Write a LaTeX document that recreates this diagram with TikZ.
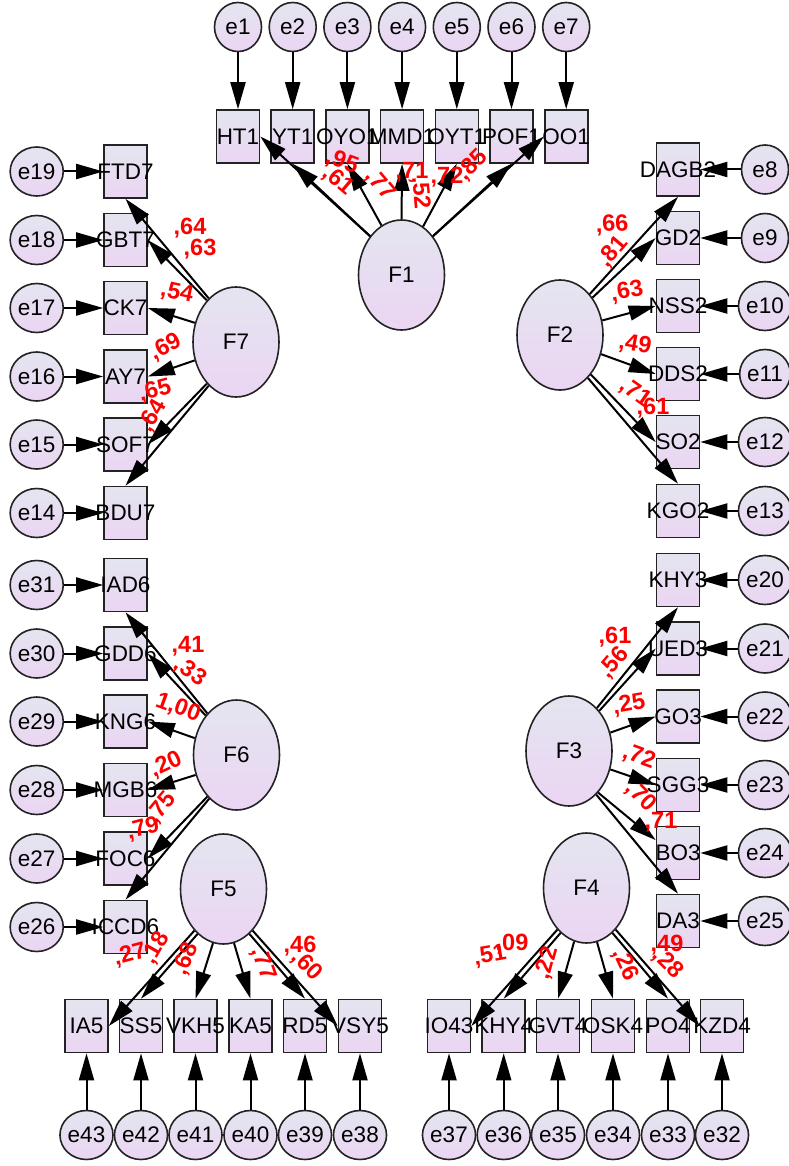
\documentclass[tikz,border=0pt]{standalone}
\usepackage{fontspec}
\setmainfont{Liberation Sans}
\usetikzlibrary{arrows.meta,shapes.geometric}
\definecolor{lavtop}{RGB}{228,229,240}
\definecolor{lavbot}{RGB}{235,213,243}
\definecolor{edgec}{RGB}{35,35,35}
\newcommand{\bx}[1]{\hbox to 0pt{\hss#1\hss}}
\begin{document}
\begin{tikzpicture}[x=1pt,y=-1pt,
  every node/.style={font=\fontsize{22.5}{22.5}\selectfont, inner sep=0pt},
  errc/.style={ellipse, draw=edgec, line width=1.6pt, top color=lavtop, bottom color=lavbot, minimum width=47pt, minimum height=49pt},
  obs/.style={rectangle, draw=edgec, line width=1.6pt, top color=lavtop, bottom color=lavbot, minimum width=43pt, minimum height=53pt},
  lat/.style={ellipse, draw=edgec, line width=1.6pt, top color=lavtop, bottom color=lavbot, minimum width=86pt, minimum height=110pt},
  arr/.style={-{Triangle[length=27pt,width=15pt]}, line width=2pt, black},
  ld/.style={text=red, font=\fontsize{23.5}{23.5}\selectfont\bfseries}
]
\fill[white] (0,0) rectangle (788,1166);
\useasboundingbox (0,0) rectangle (788,1166);

% latent factors
\node[lat] (F1) at (401.5,275) {F1};
\node[lat] (F7) at (236,342) {F7};
\node[lat] (F2) at (560,335) {F2};
\node[lat] (F6) at (236.5,755) {F6};
\node[lat] (F3) at (569,751) {F3};
\node[lat] (F5) at (223.5,889) {F5};
\node[lat] (F4) at (586.5,888) {F4};

% top row
\foreach \n/\e/\x in {HT1/e1/238, YT1/e2/292.7, OYO1/e3/347.4, MMD1/e4/402.1, OYT1/e5/456.8, POF1/e6/511.5, OO1/e7/566.2} {
  \node[obs] (\n) at (\x,136.5) {\bx{\n}};
  \node[errc] (\e) at (\x,27) {\e};
}
% left column F7
\foreach \n/\e/\y in {FTD7/e19/171.5, GBT7/e18/240, CK7/e17/308, AY7/e16/376.5, SOF7/e15/444.5, BDU7/e14/513} {
  \node[obs] (\n) at (125.5,\y) {\bx{\n}};
  \node[errc] (\e) at (36.7,\y) {\e};
}
% left column F6
\foreach \n/\e/\y in {IAD6/e31/585, GDD6/e30/653.5, KNG6/e29/721.5, MGB6/e28/790, FOC6/e27/858.5, ICCD6/e26/927} {
  \node[obs] (\n) at (125.5,\y) {\bx{\n}};
  \node[errc] (\e) at (36.7,\y) {\e};
}
% right column F2
\foreach \n/\e/\y in {DAGB2/e8/169.5, GD2/e9/238, NSS2/e10/306, DDS2/e11/374, SO2/e12/442, KGO2/e13/511} {
  \node[obs] (\n) at (678,\y) {\bx{\n}};
  \node[errc] (\e) at (765,\y) {\e};
}
% right column F3
\foreach \n/\e/\y in {KHY3/e20/580, UED3/e21/648.5, GO3/e22/716.5, SGG3/e23/785, BO3/e24/853, DA3/e25/921} {
  \node[obs] (\n) at (678,\y) {\bx{\n}};
  \node[errc] (\e) at (765,\y) {\e};
}
% bottom row F5
\foreach \n/\e/\x in {IA5/e43/86.5, SS5/e42/141, VKH5/e41/195.5, KA5/e40/250.5, RD5/e39/305, VSY5/e38/360} {
  \node[obs] (\n) at (\x,1026) {\bx{\n}};
  \node[errc] (\e) at (\x,1135) {\e};
}
% bottom row F4
\foreach \n/\t/\e/\x in {IO4/IO43/e37/449, KHY4/KHY4/e36/503.7, GVT4/GVT4/e35/558, OSK4/OSK4/e34/613, PO4/PO4/e33/668, KZD4/KZD4/e32/722} {
  \node[obs] (\n) at (\x,1026) {\bx{\t}};
  \node[errc] (\e) at (\x,1135) {\e};
}

% error arrows
\foreach \n/\e in {HT1/e1, YT1/e2, OYO1/e3, MMD1/e4, OYT1/e5, POF1/e6, OO1/e7,
  FTD7/e19, GBT7/e18, CK7/e17, AY7/e16, SOF7/e15, BDU7/e14,
  IAD6/e31, GDD6/e30, KNG6/e29, MGB6/e28, FOC6/e27, ICCD6/e26,
  DAGB2/e8, GD2/e9, NSS2/e10, DDS2/e11, SO2/e12, KGO2/e13,
  KHY3/e20, UED3/e21, GO3/e22, SGG3/e23, BO3/e24, DA3/e25,
  IA5/e43, SS5/e42, VKH5/e41, KA5/e40, RD5/e39, VSY5/e38,
  IO4/e37, KHY4/e36, GVT4/e35, OSK4/e34, PO4/e33, KZD4/e32}
  \draw[arr] (\e) -- (\n);

% loadings F1
\draw[arr] (F1.129) -- (HT1.east);
\draw[arr] (F1.129) -- (YT1.south);
\draw[arr] (F1.112) -- (OYO1.south);
\draw[arr] (F1.90) -- (MMD1.south);
\draw[arr] (F1.66) -- (OYT1.south);
\draw[arr] (F1.51) -- (POF1.south);
\draw[arr] (F1.51) -- (OO1.west);
% F7
\draw[arr] (F7.122) -- (FTD7.south);
\draw[arr] (F7.125) -- (GBT7.east);
\draw[arr] (F7.155) -- (CK7.east);
\draw[arr] (F7.204) -- (AY7.east);
\draw[arr] (F7.235) -- (SOF7.east);
\draw[arr] (F7.238) -- (BDU7.north);
% F2
\draw[arr] (F2.54) -- (DAGB2.south);
\draw[arr] (F2.49) -- (GD2.west);
\draw[arr] (F2.19) -- (NSS2.west);
\draw[arr] (F2.335) -- (DDS2.west);
\draw[arr] (F2.308) -- (SO2.west);
\draw[arr] (F2.303) -- (KGO2.north);
% F6
\draw[arr] (F6.125) -- (IAD6.south);
\draw[arr] (F6.128) -- (GDD6.east);
\draw[arr] (F6.158) -- (KNG6.east);
\draw[arr] (F6.206) -- (MGB6.east);
\draw[arr] (F6.235) -- (FOC6.east);
\draw[arr] (F6.238) -- (ICCD6.north);
% F3
\draw[arr] (F3.57) -- (KHY3.south);
\draw[arr] (F3.53) -- (UED3.west);
\draw[arr] (F3.24) -- (GO3.west);
\draw[arr] (F3.336) -- (SGG3.west);
\draw[arr] (F3.305) -- (BO3.150);
\draw[arr] (F3.302) -- (DA3.north);
% F5
\draw[arr] (F5.235) -- (IA5.east);
\draw[arr] (F5.240) -- (SS5.north);
\draw[arr] (F5.259) -- (VKH5.north);
\draw[arr] (F5.281) -- (KA5.north);
\draw[arr] (F5.300) -- (RD5.north);
\draw[arr] (F5.305) -- (VSY5.west);
% F4
\draw[arr] (F4.235) -- (IO4.east);
\draw[arr] (F4.240) -- (KHY4.north);
\draw[arr] (F4.257) -- (GVT4.north);
\draw[arr] (F4.281) -- (OSK4.north);
\draw[arr] (F4.300) -- (PO4.north);
\draw[arr] (F4.305) -- (KZD4.west);

% labels F1
\node[ld, rotate=-20] (a1) at (342,162) {,95};
\node[ld, rotate=-40] (a2) at (338,181) {,61};
\node[ld, rotate=-50] (a3) at (380,185) {,77};
\node[ld] (a4) at (412,172) {,71};
\node[ld, rotate=-85] (a5) at (420,193) {,52};
\node[ld] (a6) at (447,177) {,72};
\node[ld, rotate=45] (a7) at (473,165) {,85};
% labels F7
\node[ld] (b1) at (190,228) {,64};
\node[ld] (b2) at (200,249) {,63};
\node[ld, rotate=-12] (b3) at (177,293) {,54};
\node[ld, rotate=28] (b4) at (166,347) {,69};
\node[ld, rotate=15] (b5) at (155,391) {,65};
\node[ld, rotate=60] (b6) at (153,416) {,64};
% labels F2
\node[ld, rotate=3] (c1) at (612,225) {,66};
\node[ld, rotate=50] (c2) at (613,252) {,81};
\node[ld, rotate=10] (c3) at (627,292) {,63};
\node[ld, rotate=-10] (c4) at (635,345) {,49};
\node[ld, rotate=-35] (c5) at (635,393) {,71};
\node[ld] (c6) at (653,408) {,61};
% labels F6
\node[ld] (d1) at (188,646) {,41};
\node[ld, rotate=-35] (d2) at (190,672) {,33};
\node[ld, rotate=-20] (d3) at (178,708) {1,00};
\node[ld, rotate=25] (d4) at (166,765) {,20};
\node[ld, rotate=50] (d5) at (162,808) {,75};
\node[ld, rotate=15] (d6) at (143,829) {,79};
% labels F3
\node[ld] (g1) at (615,637) {,61};
\node[ld, rotate=50] (g2) at (614,663) {,56};
\node[ld, rotate=10] (g3) at (629,705) {,25};
\node[ld, rotate=-20] (g4) at (639,757) {,72};
\node[ld, rotate=-45] (g5) at (641,797) {,70};
\node[ld] (g6) at (661,822) {,71};
% labels F5
\node[ld, rotate=15] (h1) at (130,955) {,27};
\node[ld, rotate=60] (h2) at (156,948) {,18};
\node[ld, rotate=68] (h3) at (186,959) {,68};
\node[ld, rotate=-70] (h4) at (263,964) {,77};
\node[ld] (h5) at (300,946) {,46};
\node[ld, rotate=-45] (h6) at (307,966) {,60};
% labels F4
\node[ld, rotate=10] (k1) at (490,956) {,51};
\node[ld] (k2) at (512,944) {,09};
\node[ld, rotate=75] (k3) at (547,963) {,22};
\node[ld, rotate=-65] (k4) at (625,965) {,26};
\node[ld] (k5) at (667,945) {,49};
\node[ld, rotate=-45] (k6) at (668,964) {,28};
\end{tikzpicture}
\end{document}
